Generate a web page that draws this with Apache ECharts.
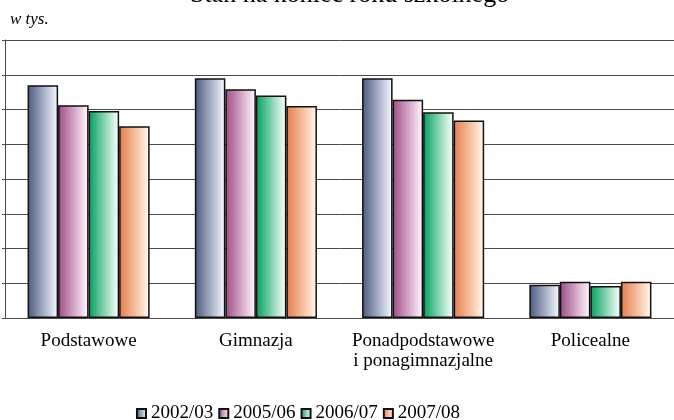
<!DOCTYPE html>
<html>
<head>
<meta charset="utf-8">
<script src="https://cdn.jsdelivr.net/npm/echarts@6/dist/echarts.min.js"></script>
<style>
  html, body { margin: 0; padding: 0; background: #fff; }
  #chart { width: 674px; height: 420px; }
</style>
</head>
<body>
<div id="chart"></div>
<script>
const categories = ['Podstawowe', 'Gimnazja', 'Ponadpodstawowe\ni ponagimnazjalne', 'Policealne']
const years = ['2002/03', '2005/06', '2006/07', '2007/08']
const v2002 = [335, 345, 345, 48]
const v2005 = [306, 329, 314, 52]
const v2006 = [298, 320, 296, 46]
const v2007 = [276, 305, 284, 52]

const serif = 'Liberation Serif'
const gridColor = '#4a4a4a'

function grad(dark, light) {
  return new echarts.graphic.LinearGradient(0, 0, 1, 0, [{
    offset: 0,
    color: dark
  }, {
    offset: 0.8,
    color: light
  }, {
    offset: 1,
    color: '#ffffff'
  }], false)
}

const fills = [
  grad('#4b5980', '#d6dbea'),
  grad('#9c4c84', '#f0d6ea'),
  grad('#00a05c', '#cfeee0'),
  grad('#e67c4a', '#fde0cc')
]

const chart = echarts.init(document.getElementById('chart'))
chart.setOption({
  animation: false,
  graphic: [{
    type: 'text',
    left: 190,
    top: -18,
    style: {
      text: 'Stan na koniec roku szkolnego',
      font: '26px "' + serif + '"',
      fill: '#000'
    }
  }, {
    type: 'text',
    left: 10,
    top: 11,
    style: {
      text: 'w tys.',
      font: 'italic 17px "' + serif + '"',
      fill: '#000'
    }
  }],
  legend: {
    left: 131,
    top: 399,
    itemWidth: 9,
    itemHeight: 9,
    itemGap: 5,
    icon: 'rect',
    textStyle: {
      fontFamily: serif,
      fontSize: 19,
      color: '#000'
    },
    data: years
  },
  grid: {
    left: 5,
    right: 0,
    top: 40,
    bottom: 102,
    containLabel: false
  },
  xAxis: {
    type: 'category',
    data: categories,
    axisLine: { lineStyle: { color: gridColor, width: 1 } },
    axisTick: { show: false },
    axisLabel: {
      interval: 0,
      hideOverlap: false,
      fontFamily: serif,
      fontSize: 19,
      color: '#000',
      margin: 13,
      lineHeight: 20
    }
  },
  yAxis: {
    type: 'value',
    min: 0,
    max: 400,
    interval: 50,
    axisLine: { show: true, lineStyle: { color: gridColor, width: 1 } },
    axisTick: { show: true, length: 3, lineStyle: { color: gridColor } },
    axisLabel: { show: false },
    splitLine: { lineStyle: { color: gridColor, width: 1 } }
  },
  series: [v2002, v2005, v2006, v2007].map(function(d, i) {
    return {
      name: years[i],
      type: 'bar',
      data: d,
      barGap: '0%',
      barCategoryGap: '27%',
      itemStyle: {
        color: fills[i],
        borderColor: '#111',
        borderWidth: 1.5
      }
    }
  })
})
</script>
</body>
</html>
